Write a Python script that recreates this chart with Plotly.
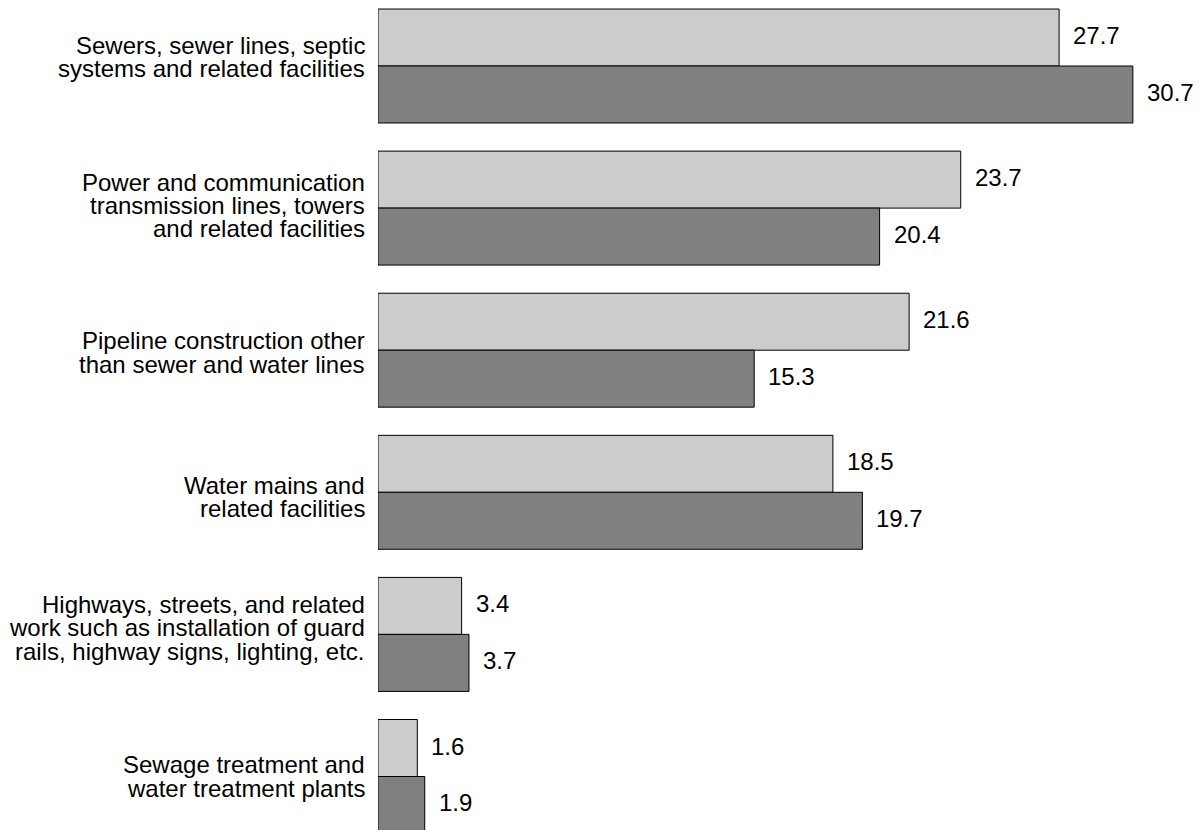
import plotly.graph_objects as go

categories = [
    "Sewers, sewer lines, septic\nsystems and related facilities",
    "Power and communication\ntransmission lines, towers\nand related facilities",
    "Pipeline construction other\nthan sewer and water lines",
    "Water mains and\nrelated facilities",
    "Highways, streets, and related\nwork such as installation of guard\nrails, highway signs, lighting, etc.",
    "Sewage treatment and\nwater treatment plants",
]
series_light = [27.7, 23.7, 21.6, 18.5, 3.4, 1.6]
series_dark = [30.7, 20.4, 15.3, 19.7, 3.7, 1.9]

# layout / style constants
FONT = "Liberation Sans, Arial, Helvetica, sans-serif"
FS = 24
BARGAP = 0.198
LINE_SP = 23.3
label_offsets = [-9, -2.8, 2.3, 4.7, -6.5, 0]  # px, downward, per category label block
colors = ["#cccccc", "#808080"]

idx = list(range(len(categories)))
fig = go.Figure()
for k, (vals, col, nm) in enumerate(zip([series_light, series_dark], colors, ["Series 1", "Series 2"])):
    fig.add_trace(go.Bar(
        y=idx, x=vals, orientation="h", name=nm,
        marker=dict(color=col, line=dict(color="#000000", width=1)),
        showlegend=False, hoverinfo="x",
    ))

annotations = []
half = (1 - BARGAP) / 2
for k, vals in enumerate([series_light, series_dark]):
    for i, v in enumerate(vals):
        annotations.append(dict(
            x=v, y=i + (k - 0.5) * half, xref="x", yref="y",
            text=f"{v:.1f}", showarrow=False, xanchor="left", yanchor="middle",
            xshift=12, yshift=2, font=dict(family=FONT, size=FS, color="#000000"),
        ))

for i, cat in enumerate(categories):
    lines = cat.split("\n")
    n = len(lines)
    for j, ln in enumerate(lines):
        dy = label_offsets[i] + (j - (n - 1) / 2) * LINE_SP
        annotations.append(dict(
            x=0, y=i, xref="paper", yref="y", text=ln, showarrow=False,
            xanchor="right", yanchor="middle", xshift=-11, yshift=-dy,
            font=dict(family=FONT, size=FS, color="#000000"),
        ))

fig.update_layout(
    width=1199, height=830,
    margin=dict(l=378, r=0, t=0, b=0),
    paper_bgcolor="white", plot_bgcolor="white",
    barmode="group", bargap=BARGAP, bargroupgap=0,
    xaxis=dict(range=[0, 33.39], showgrid=False, zeroline=False, showline=False,
               showticklabels=False, ticks=""),
    yaxis=dict(range=[5.3765, -0.4645], showgrid=False, zeroline=False, showline=False,
               showticklabels=False, ticks=""),
    annotations=annotations,
    font=dict(family=FONT, size=FS, color="#000000"),
)

fig.write_html("out.html")
